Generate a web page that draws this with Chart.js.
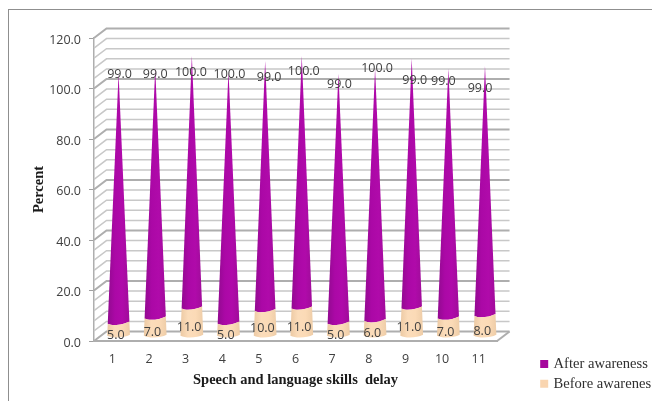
<!DOCTYPE html>
<html>
<head>
<meta charset="utf-8">
<title>Speech and language skills delay</title>
<script src="https://cdn.jsdelivr.net/npm/chart.js@4"></script>
<style>
  html, body { margin: 0; background: #fff; }
  #frame { position: relative; width: 652px; height: 401px; overflow: hidden; }
  #frame::before {
    content: ''; position: absolute; left: 8px; top: 9px; right: -4px; bottom: -4px;
    border: solid #8f8f8f; border-width: 1.5px 0 0 1.5px;
  }
  canvas { position: absolute; left: 0; top: 0; }
</style>
</head>
<body>
<div id="frame"><canvas id="chart" width="652" height="401"></canvas></div>
<script>
// Chart data
const categories = ['1', '2', '3', '4', '5', '6', '7', '8', '9', '10', '11'];
const beforeValues = [5, 7, 11, 5, 10, 11, 5, 6, 11, 7, 8];
const afterValues = [99, 99, 100, 100, 99, 100, 99, 100, 99, 99, 99];

// Hand placement of the upper value labels, in px from the cone tip
const afterLabelNudgeX = [1, 0, -1, 1, 4, 2, 1, 2, 3, -5, -5];
const afterLabelNudgeY = [-1, 4, 14, 1, 14, 13, 9, -2, 20, 11, 20];

// Depth of the fake 3D box, in px
const DEPTH_X = 12.5;
const DEPTH_Y = 9.5;
const MINOR_STEP = 4;
const MAJOR_STEP = 20;

const labelFont = '12.5px "Open Sans"';

// Horizontal shading across a cone segment
function coneGradient(ctx, left, right, stops) {
  const g = ctx.createLinearGradient(left, 0, right, 0);
  stops.forEach((c, i) => g.addColorStop(i / (stops.length - 1), c));
  return g;
}

// Walls and floor, drawn behind the cones
const boxPlugin = {
  id: 'box',
  beforeDatasetsDraw(chart) {
    const { ctx, scales: { x, y } } = chart;
    ctx.save();
    for (let v = y.min; v <= y.max; v += MINOR_STEP) {
      const py = y.getPixelForValue(v);
      const major = v % MAJOR_STEP === 0;
      ctx.strokeStyle = major ? '#aeaeae' : '#c8c8c8';
      ctx.lineWidth = major ? 2 : 1.5;
      ctx.beginPath();
      ctx.moveTo(x.left, py);
      ctx.lineTo(x.left + DEPTH_X, py - DEPTH_Y);
      ctx.lineTo(x.right + DEPTH_X, py - DEPTH_Y);
      ctx.stroke();
    }
    // right edge of the floor
    const floor = y.getPixelForValue(0);
    ctx.strokeStyle = '#aeaeae';
    ctx.lineWidth = 2;
    ctx.beginPath();
    ctx.moveTo(x.right, floor);
    ctx.lineTo(x.right + DEPTH_X, floor - DEPTH_Y);
    ctx.stroke();
    ctx.restore();
  }
};

// Each stacked bar is painted as one slice of a cone standing mid-way in the box
const conePlugin = {
  id: 'cones',
  beforeDatasetDraw(chart, args) {
    const { ctx } = chart;
    const metaBefore = chart.getDatasetMeta(0);
    const metaAfter = chart.getDatasetMeta(1);
    const colors = args.index === 0
      ? ['#ecc9a3', '#fbdcba', '#fbdab6', '#eecda8']
      : ['#920a90', '#ab08a6', '#b00aaa', '#a00c9a'];

    args.meta.data.forEach((bar, i) => {
      const cx = bar.x + DEPTH_X / 2;
      const base = metaBefore.data[i].base - DEPTH_Y / 2;
      const tip = metaAfter.data[i].y - DEPTH_Y / 2;
      const halfBase = bar.width / 2;
      const halfAt = py => halfBase * (py - tip) / (base - tip);
      const lower = bar.base - DEPTH_Y / 2;
      const upper = bar.y - DEPTH_Y / 2;
      const hl = halfAt(lower);
      const hu = halfAt(upper);
      // the floor edge sits almost level, the seam between slices tilts up to the right
      const lowerTilt = args.index === 0 ? 0.08 : 0.2;

      ctx.save();
      ctx.beginPath();
      ctx.moveTo(cx - hl, lower);
      ctx.bezierCurveTo(cx - hl * 0.5, lower + hl * 0.26, cx + hl * 0.5, lower + hl * 0.26 - hl * lowerTilt, cx + hl, lower - hl * lowerTilt);
      if (args.index === 0) {
        ctx.lineTo(cx + hu, upper - hu * 0.2);
        ctx.bezierCurveTo(cx + hu * 0.5, upper + hu * 0.06, cx - hu * 0.5, upper + hu * 0.26, cx - hu, upper);
      } else {
        ctx.lineTo(cx, upper);
      }
      ctx.closePath();
      ctx.fillStyle = coneGradient(ctx, cx - hl, cx + hl, colors);
      ctx.fill();
      ctx.restore();
    });
    return false;
  },
  afterDatasetsDraw(chart) {
    const { ctx } = chart;
    const metaBefore = chart.getDatasetMeta(0);
    const metaAfter = chart.getDatasetMeta(1);
    ctx.save();
    ctx.font = labelFont;
    ctx.fillStyle = '#404040';
    ctx.textAlign = 'center';
    ctx.textBaseline = 'middle';
    categories.forEach((c, i) => {
      const low = metaBefore.data[i];
      const high = metaAfter.data[i];
      ctx.fillText(beforeValues[i].toFixed(1), low.x + 3.5, (low.base + low.y) / 2 - DEPTH_Y / 2 + 5.5);
      ctx.fillText(afterValues[i].toFixed(1),
        high.x + DEPTH_X / 2 + afterLabelNudgeX[i],
        high.y - DEPTH_Y / 2 + afterLabelNudgeY[i] + 2);
    });
    ctx.restore();
  }
};

// The legend sits in the lower right corner, clear of the plot
const legendPlacement = {
  id: 'legendPlacement',
  afterLayout(chart) {
    const legend = chart.legend;
    const w = legend.width;
    const h = legend.height;
    legend.left = 537;
    legend.right = legend.left + w;
    legend.top = 351.5;
    legend.bottom = legend.top + h;
  }
};

new Chart(document.getElementById('chart'), {
  type: 'bar',
  data: {
    labels: categories,
    datasets: [
      // the thick border fattens the small legend swatch and pulls its text closer
      { label: 'Before awarenes', data: beforeValues, backgroundColor: '#f9d5b0', borderColor: '#f9d5b0', borderWidth: 4 },
      { label: 'After awareness', data: afterValues, backgroundColor: '#a5069c', borderColor: '#a5069c', borderWidth: 4 }
    ]
  },
  plugins: [boxPlugin, conePlugin, legendPlacement],
  options: {
    responsive: false,
    animation: false,
    categoryPercentage: 1,
    barPercentage: 0.62,
    layout: { padding: { top: 38, right: 30.8, left: 0, bottom: 0 } },
    plugins: {
      tooltip: { enabled: false },
      legend: {
        position: 'right',
        align: 'start',
        reverse: true,
        labels: {
          boxWidth: 4,
          boxHeight: 4,
          padding: 5.2,
          color: '#303030',
          font: { family: '"Liberation Serif"', size: 14.6 }
        }
      }
    },
    scales: {
      x: {
        stacked: true,
        afterFit(scale) { scale.height = 60; },
        grid: { display: false, drawTicks: false },
        border: { display: true, color: '#aeaeae', width: 2 },
        ticks: { color: '#404040', padding: 11, font: { family: '"Open Sans"', size: 12.5 } },
        title: {
          display: true,
          text: 'Speech and language skills  delay',
          color: '#1a1a1a',
          font: { family: '"Liberation Serif"', size: 14.5, weight: 'bold' },
          padding: { top: 0, bottom: 12 }
        }
      },
      y: {
        stacked: true,
        min: 0,
        max: 120,
        afterFit(scale) { scale.width = 94; },
        grid: { drawOnChartArea: false, tickLength: 5, tickColor: '#a0a0a0' },
        border: { display: true, color: '#aeaeae', width: 1.5 },
        ticks: {
          stepSize: MAJOR_STEP,
          color: '#404040',
          padding: 8,
          labelOffset: 2,
          font: { family: '"Open Sans"', size: 12.5 },
          callback: v => v.toFixed(1)
        },
        title: {
          display: true,
          text: 'Percent',
          color: '#1a1a1a',
          font: { family: '"Liberation Serif"', size: 14.5, weight: 'bold' },
          padding: { top: 31, bottom: 0 }
        }
      }
    }
  }
});
</script>
</body>
</html>
